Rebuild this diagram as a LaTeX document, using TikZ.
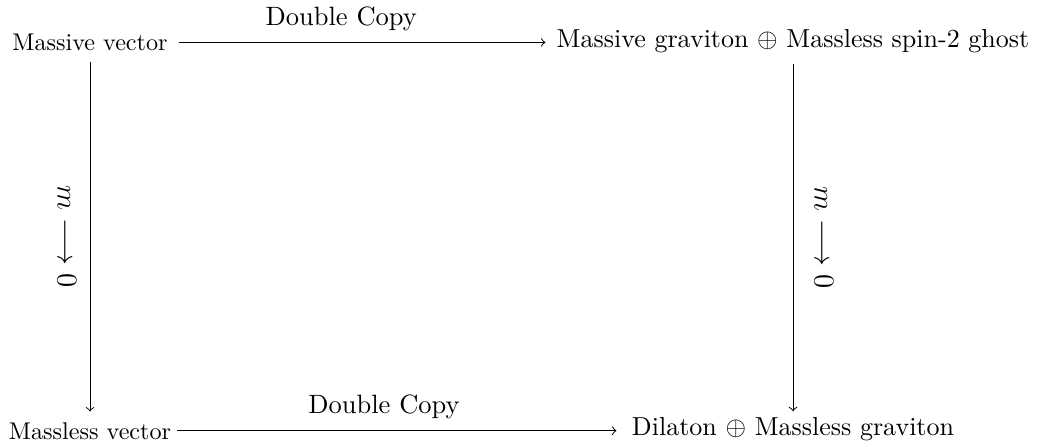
\documentclass[tikz,border=0pt]{standalone}
\usetikzlibrary{calc}
\begin{document}
\begin{tikzpicture}[x=0.41408pt,y=-0.41408pt,
  objl/.style={anchor=base, inner xsep=4.5pt, inner ysep=4.3pt, text height=6.9pt, text depth=0pt, font=\fontsize{10}{12}\selectfont},
  objr/.style={anchor=base, inner xsep=4.5pt, inner ysep=4.3pt, text height=5.67pt, text depth=2.36pt, font=\fontsize{10.77}{13}\selectfont},
  arr/.style={->, line width=0.4pt},
  dc/.style={font=\fontsize{10.97}{13}\selectfont, above, inner sep=4.6pt},
  ml/.style={font=\fontsize{12}{14}\selectfont, rotate=-90}]
\useasboundingbox (0,0) rectangle (1041,446);
\node[objl] (tl) at (90,50.7) {Massive vector};
\node[objr] (tr) at (793,47.7) {Massive graviton $\oplus$ Massless spin-2 ghost};
\node[objl] (bl) at (90,439) {Massless vector};
\node[objr] (br) at (793,435.8) {Dilaton $\oplus$ Massless graviton};
\draw[arr] (tl) -- node[dc, pos=0.443] (dct) {Double Copy} (tl -| tr.west);
\draw[arr, shorten <=-2.36pt, shorten >=1.7pt] (bl) -- node[dc, pos=0.46] (dcb) {Double Copy} (bl -| br.west);
\draw[arr] (tl) -- (bl);
\draw[arr] (tr.south) -- (tr.south |- br.north);
\node[ml] (mll) at ($(tl.south)!0.5!(bl.north)+(-23,0)$) {$m\longrightarrow 0$};
\node[ml] (mlr) at ($(tr.south)!0.5!(br.north)+(31,0)$) {$m\longrightarrow 0$};
\end{tikzpicture}
\end{document}
